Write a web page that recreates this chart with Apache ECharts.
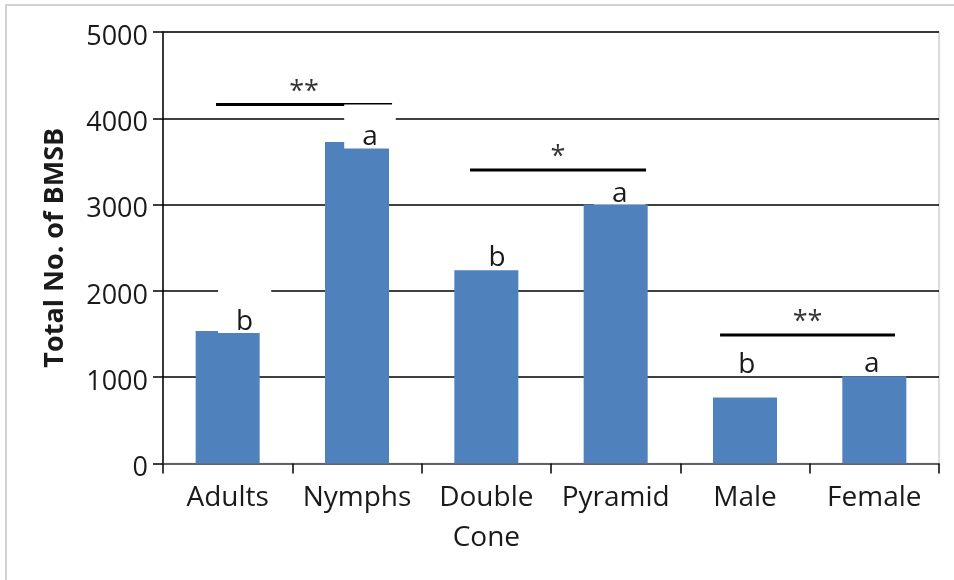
<!DOCTYPE html>
<html>
<head>
<meta charset="utf-8">
<script src="https://cdn.jsdelivr.net/npm/echarts@6/dist/echarts.min.js"></script>
<style>
  html, body { margin: 0; padding: 0; background: #fff; }
  #chart { width: 954px; height: 580px; }
</style>
</head>
<body>
<div id="chart"></div>
<script>
// Counts of BMSB per group
const categories = ['Adults', 'Nymphs', 'Double\nCone', 'Pyramid', 'Male', 'Female'];
const totals = [1535, 3725, 2240, 3000, 765, 1010];
const groupLetters = ['b', 'a', 'b', 'a', 'b', 'a'];

// Value axis range
const yMin = 0;
const yMax = 5000;
const yStep = 1000;

// Significance brackets, in category-index units (0 = left edge of first group)
const bracketStart = [0.41, 2.374, 4.307];
const bracketEnd = [1.771, 3.735, 5.66];
const bracketLevel = [4160, 3400, 1490];
const bracketMarks = ['**', '*', '**'];

// ---- styling ----
const FONT = '"Open Sans", sans-serif';
const TEXT = '#1a1a1a';
// letter label placement: [dx, dy, top padding, background]
const letterStyle = [
  [17, 2, 21, '#ffffff'],
  [13, 6.4, 22, '#ffffff'],
  [10.7, -1.5, 8, 'transparent'],
  [4, 0, 8, '#ffffff'],
  [1.7, -21.8, 8, 'transparent'],
  [-2.6, -1, 8, 'transparent']
];

const chart = echarts.init(document.getElementById('chart'), null, { renderer: 'canvas' });

const barData = totals.map((v, i) => {
  const s = letterStyle[i];
  return {
    value: v,
    label: {
      offset: [s[0], s[1]],
      padding: [s[2], 18, 0, 18],
      backgroundColor: s[3]
    }
  };
});

const bracketSeries = bracketStart.map((s, i) => ({
  type: 'line',
  xAxisIndex: 1,
  yAxisIndex: 0,
  z: 2,
  symbol: 'none',
  silent: true,
  lineStyle: { color: '#000', width: 3 },
  data: [[s, bracketLevel[i]], [bracketEnd[i], bracketLevel[i]]]
}));

const markSeries = {
  type: 'scatter',
  xAxisIndex: 1,
  yAxisIndex: 0,
  z: 2,
  symbolSize: 1,
  silent: true,
  itemStyle: { color: 'rgba(0,0,0,0)' },
  label: {
    show: true,
    position: 'top',
    distance: 0,
    offset: [0, 1],
    fontFamily: FONT,
    fontSize: 27,
    lineHeight: 26,
    color: '#000',
    formatter: p => p.data[2]
  },
  data: bracketMarks.map((m, i) => [(bracketStart[i] + bracketEnd[i]) / 2, bracketLevel[i], m])
};

chart.setOption({
  animation: false,
  backgroundColor: '#fff',
  graphic: [{
    type: 'rect',
    shape: { x: 6, y: 5, width: 1200, height: 1200 },
    style: { fill: 'none', stroke: '#c4c4c4', lineWidth: 1.5 },
    silent: true,
    z: -1
  }],
  grid: {
    left: 163, right: 15, top: 32, bottom: 116.5,
    show: true,
    borderColor: '#cfcfcf',
    borderWidth: 1.5,
    backgroundColor: 'transparent'
  },
  xAxis: [{
    type: 'category',
    data: categories,
    axisLine: { lineStyle: { color: '#707070', width: 1.5 } },
    axisTick: { show: true, interval: 0, length: 10, lineStyle: { color: '#000', width: 1.5 } },
    axisLabel: {
      interval: 0,
      fontFamily: FONT, fontSize: 28, lineHeight: 40, color: TEXT, margin: 15
    },
    splitLine: { show: false }
  }, {
    type: 'value',
    min: 0,
    max: categories.length,
    show: false
  }],
  yAxis: {
    type: 'value',
    min: yMin,
    max: yMax,
    interval: yStep,
    name: 'Total No. of BMSB',
    nameLocation: 'middle',
    nameGap: 94,
    nameTextStyle: { fontFamily: FONT, fontSize: 27, fontWeight: 'bold', color: TEXT, lineHeight: 27 },
    axisLine: { show: true, lineStyle: { color: '#000', width: 1.5 } },
    axisTick: { show: true, length: 10, lineStyle: { color: '#000', width: 1.5 } },
    axisLabel: {
      fontFamily: FONT, fontSize: 27, color: TEXT, margin: 15,
      verticalAlign: 'top', lineHeight: 10,
      formatter: v => String(v)
    },
    splitLine: { show: true, lineStyle: { color: '#000', width: 1.5 } }
  },
  series: [{
    type: 'bar',
    z: 3,
    barWidth: '49.5%',
    itemStyle: { color: '#4f81bd' },
    label: {
      show: true,
      position: 'top',
      distance: 0,
      fontFamily: FONT,
      fontSize: 28,
      lineHeight: 22,
      color: TEXT,
      formatter: p => groupLetters[p.dataIndex]
    },
    data: barData
  }, ...bracketSeries, markSeries]
});
</script>
</body>
</html>
